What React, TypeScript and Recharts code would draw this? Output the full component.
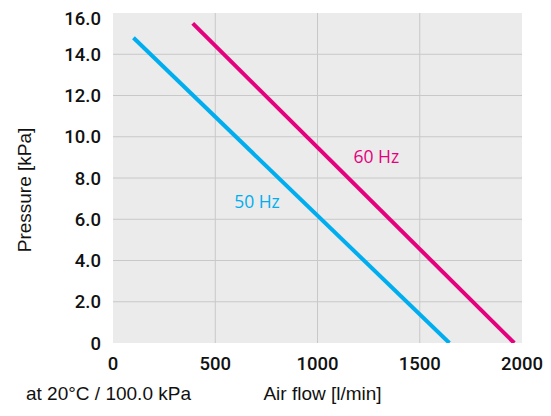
import React from "react";
import {
  LineChart,
  Line,
  XAxis,
  YAxis,
  CartesianGrid,
  ReferenceDot,
  Label,
} from "recharts";

const xTicks = [0, 500, 1000, 1500, 2000];
const yTicks = [0, 2, 4, 6, 8, 10, 12, 14, 16];
const hLines = [2, 4, 6, 8, 10, 12, 14];
const vLines = [500, 1000, 1500];

const hz50 = [
  { x: 100, y: 14.8 },
  { x: 1645, y: 0 },
];
const hz60 = [
  { x: 390, y: 15.5 },
  { x: 1962, y: 0 },
];

const label50 = { x: 704, y: 6.9, text: "50 Hz" };
const label60 = { x: 1288, y: 9.05, text: "60 Hz" };

const BLUE = "#00aeef";
const MAGENTA = "#e5007d";
const tickFont = "Roboto, 'Liberation Sans', sans-serif";
const titleFont = "'Liberation Sans', Arial, sans-serif";

const fmtY = (v: number) => (v === 0 ? "0" : v.toFixed(1));

const HzLabel = (color: string, text: string) => (props: any) => {
  const { viewBox } = props;
  const cx = viewBox.x + (viewBox.width || 0) / 2;
  const cy = viewBox.y + (viewBox.height || 0) / 2;
  return (
    <text
      x={cx}
      y={cy}
      textAnchor="middle"
      dominantBaseline="central"
      fill={color}
      fontFamily="'Open Sans', sans-serif"
      fontSize={17.5}
    >
      {text}
    </text>
  );
};

export default function App() {
  return (
    <LineChart
      width={543}
      height={408}
      margin={{ top: 5, right: 29, bottom: 43, left: 45 }}
    >
      <CartesianGrid
        fill="#ebebeb"
        stroke="#c8c8c8"
        strokeWidth={1}
        horizontalValues={hLines}
        verticalValues={vLines}
      />
      <XAxis
        type="number"
        dataKey="x"
        domain={[0, 2000]}
        ticks={xTicks}
        axisLine={false}
        tickLine={false}
        tickSize={0}
        tickMargin={14}
        height={30}
        tick={{ fill: "#111", fontSize: 18.5, fontFamily: tickFont, fontWeight: 500 }}
        allowDataOverflow
      >
        <Label
          value="Air flow [l/min]"
          position="bottom"
          offset={14}
          dx={5}
          style={{ fill: "#111", fontSize: 19, fontFamily: titleFont }}
        />
        <Label
          value="at 20°C / 100.0 kPa"
          position="bottom"
          offset={14}
          dx={-209}
          style={{ fill: "#111", fontSize: 19, fontFamily: titleFont }}
        />
      </XAxis>
      <YAxis
        type="number"
        dataKey="y"
        domain={[0, 16]}
        ticks={yTicks}
        tickFormatter={fmtY}
        axisLine={false}
        tickLine={false}
        tickSize={0}
        tickMargin={12}
        width={60}
        tick={{ fill: "#111", fontSize: 18.5, fontFamily: tickFont, fontWeight: 500 }}
        allowDataOverflow
      >
        <Label
          value="Pressure [kPa]"
          angle={-90}
          position="insideLeft"
          offset={-29}
          dy={12}
          style={{ fill: "#111", fontSize: 19, fontFamily: titleFont, textAnchor: "middle" }}
        />
      </YAxis>
      <Line
        data={hz50}
        dataKey="y"
        stroke={BLUE}
        strokeWidth={4}
        dot={false}
        isAnimationActive={false}
      />
      <Line
        data={hz60}
        dataKey="y"
        stroke={MAGENTA}
        strokeWidth={4}
        dot={false}
        isAnimationActive={false}
      />
      <ReferenceDot
        x={label50.x}
        y={label50.y}
        r={0}
        fill="none"
        stroke="none"
        label={HzLabel(BLUE, label50.text)}
      />
      <ReferenceDot
        x={label60.x}
        y={label60.y}
        r={0}
        fill="none"
        stroke="none"
        label={HzLabel(MAGENTA, label60.text)}
      />
    </LineChart>
  );
}
